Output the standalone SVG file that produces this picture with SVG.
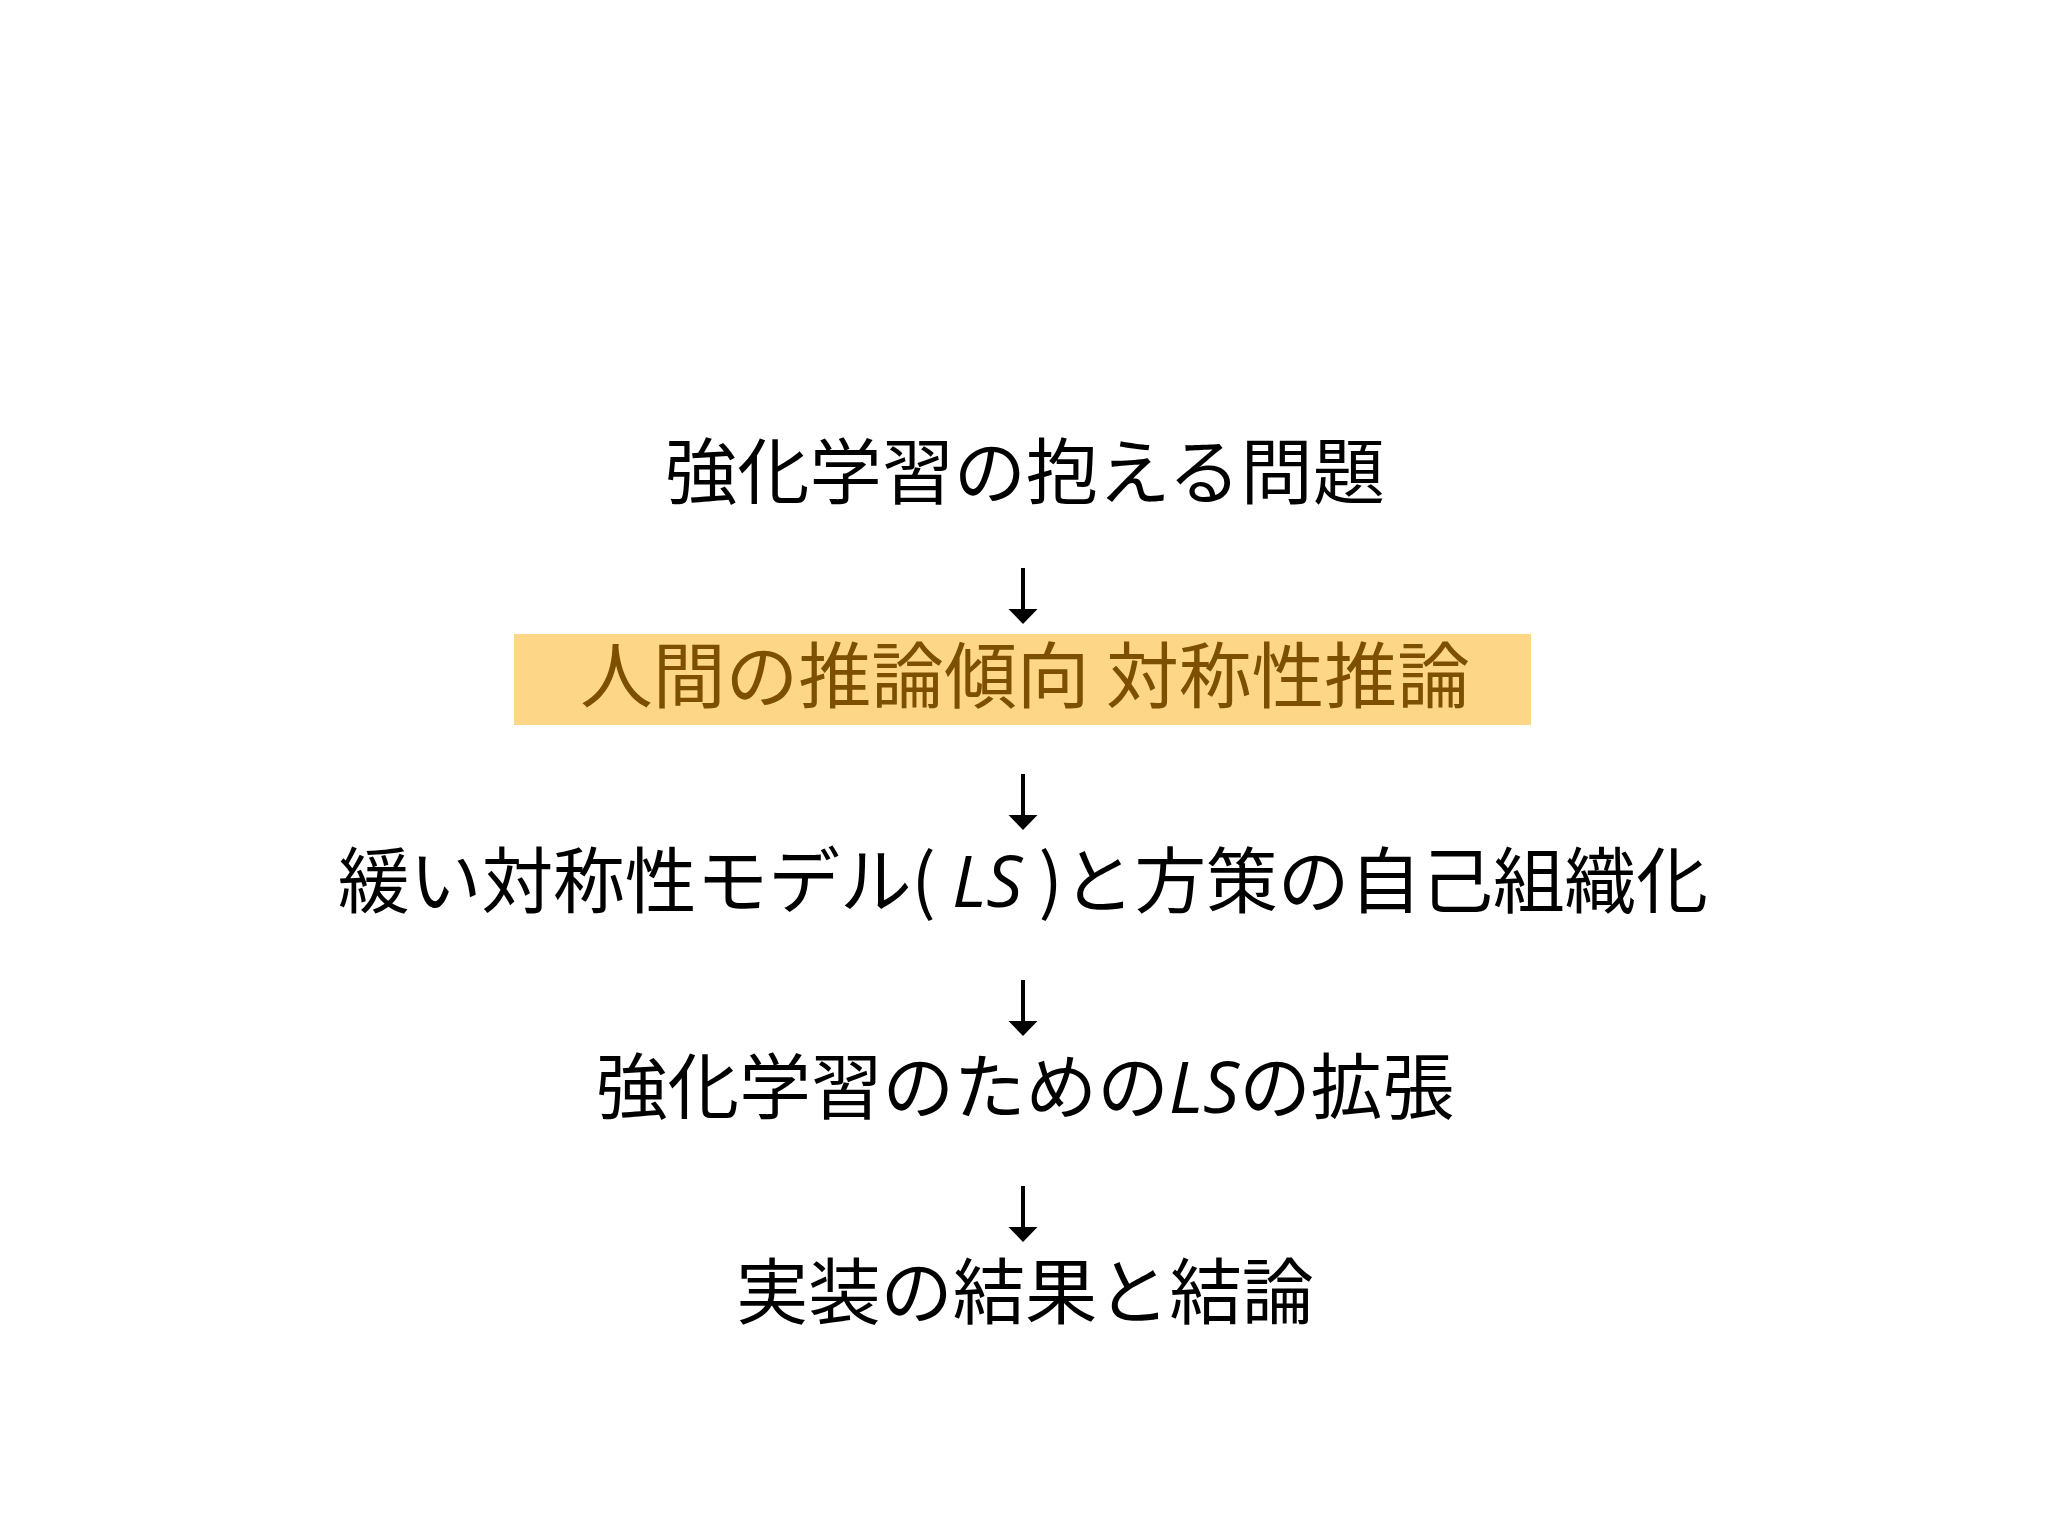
<svg xmlns="http://www.w3.org/2000/svg" xmlns:xlink="http://www.w3.org/1999/xlink" width="2048" height="1536" viewBox="0 0 2048 1536">
  <style>
    .t { font-family: "Noto Sans CJK JP", "Noto Sans", sans-serif; font-size: 72px; fill: #000; text-anchor: middle; }
    .hl { fill: #7C5000; }
    .it { font-family: "Open Sans", "Liberation Sans", sans-serif; font-style: italic; }
    .line { stroke: #000; stroke-width: 4; }
    .head { fill: #000; }
  </style>
  <defs>
    <g id="arrow">
      <line class="line" x1="0" y1="0" x2="0" y2="44"/>
      <polygon class="head" points="-14.5,41 14.5,41 0,56"/>
    </g>
  </defs>
  <rect width="2048" height="1536" fill="#fff"/>

  <g id="node1">
    <text class="t" x="1025" y="498" textLength="720" lengthAdjust="spacingAndGlyphs">強化学習の抱える問題</text>
  </g>
  <g id="node2">
    <rect x="514" y="634" width="1017" height="91" fill="#FED687"/>
    <text class="t hl" x="1025" y="702" textLength="890" lengthAdjust="spacingAndGlyphs">人間の推論傾向 対称性推論</text>
  </g>
  <g id="node3">
    <text class="t" x="1023" y="907" textLength="1370" lengthAdjust="spacingAndGlyphs">緩い対称性モデル( <tspan class="it">LS</tspan> )と方策の自己組織化</text>
  </g>
  <g id="node4">
    <text class="t" x="1025" y="1113" textLength="858" lengthAdjust="spacingAndGlyphs">強化学習のための<tspan class="it">LS</tspan>の拡張</text>
  </g>
  <g id="node5">
    <text class="t" x="1025" y="1318" textLength="578" lengthAdjust="spacingAndGlyphs">実装の結果と結論</text>
  </g>

  <g id="connectors">
    <use xlink:href="#arrow" href="#arrow" x="1023" y="568"/>
    <use xlink:href="#arrow" href="#arrow" x="1023" y="774"/>
    <use xlink:href="#arrow" href="#arrow" x="1023" y="980"/>
    <use xlink:href="#arrow" href="#arrow" x="1023" y="1186"/>
  </g>
</svg>
